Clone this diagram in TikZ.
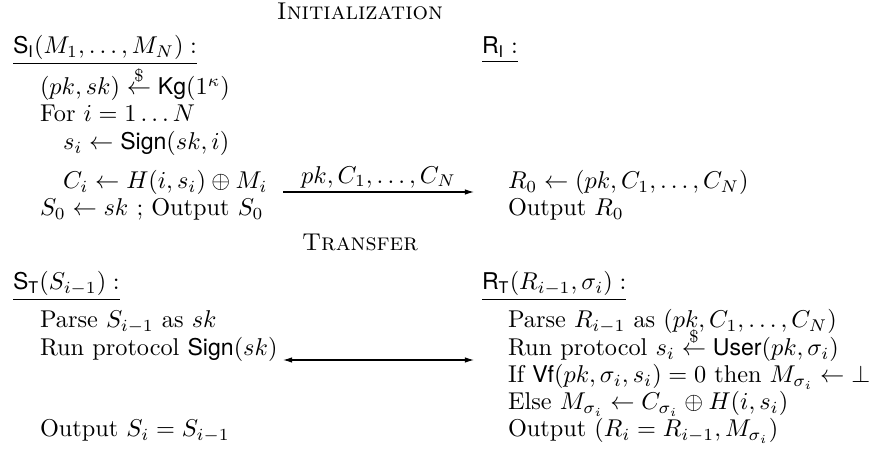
\documentclass[tikz,border=0pt]{standalone}
\usepackage{amsmath,amssymb}
\usepackage{fontspec}
\setsansfont[Scale=0.95]{TeX Gyre Heros}
\usetikzlibrary{arrows.meta}
\begin{document}
\begin{tikzpicture}[x=0.4115pt,y=-0.4115pt,
  txt/.style={anchor=base west, inner sep=0pt, outer sep=0pt},
  ttl/.style={anchor=base, inner sep=0pt, outer sep=0pt},
  tip/.tip={Latex[length=3.8pt,width=2.3pt]},
  msg/.style={line width=0.45pt, -tip},
  dmsg/.style={line width=0.45pt, tip-tip}]
\useasboundingbox (0,0) rectangle (877,463);

% ---- Initialization ----
\node[ttl] (tinit) at (360,20) {\textsc{Initialization}};
\node[txt] (si) at (13,54) {$\underline{\mathsf{S_I}(M_1,\ldots,M_N):}$};
\node[txt] (ri) at (482,54) {$\underline{\mathsf{R_I}:}$};

\node[txt] (kg)  at (40,95)  {$(pk,sk)\stackrel{\$}{\leftarrow}\mathsf{Kg}(1^\kappa)$};
\node[txt] (for) at (40,122) {For $i=1\ldots N$};
\node[txt] (sg)  at (63,150) {$s_i\leftarrow\mathsf{Sign}(sk,i)$};
\node[txt] (ci)  at (63,189) {$C_i\leftarrow H(i,s_i)\oplus M_i$};
\node[txt] (s0)  at (40,216) {$S_0\leftarrow sk$ ; Output $S_0$};

\node[txt] (r0)  at (508,189) {$R_0\leftarrow(pk,C_1,\ldots,C_N)$};
\node[txt] (or0) at (508,216) {Output $R_0$};

\coordinate (iL) at (283,192);
\coordinate (iR) at (474,192);
\draw[msg] (iL) -- node[above=1.4pt, inner sep=0pt] (lab) {$pk,C_1,\ldots,C_N$} (iR);

% ---- Transfer ----
\node[ttl] (ttr) at (360,251) {\textsc{Transfer}};
\node[txt] (st) at (13,290)  {$\underline{\mathsf{S_T}(S_{i-1}):}$};
\node[txt] (rt) at (482,290) {$\underline{\mathsf{R_T}(R_{i-1},\sigma_i):}$};

\node[txt] (sp)  at (40,328)  {Parse $S_{i-1}$ as $sk$};
\node[txt] (rp)  at (508,328) {Parse $R_{i-1}$ as $(pk,C_1,\ldots,C_N)$};
\node[txt] (sr)  at (40,356)  {Run protocol $\mathsf{Sign}(sk)$};
\node[txt] (rr)  at (508,356) {Run protocol $s_i\stackrel{\$}{\leftarrow}\mathsf{User}(pk,\sigma_i)$};
\node[txt] (rif) at (508,383) {If $\mathsf{Vf}(pk,\sigma_i,s_i)=0$ then $M_{\sigma_i}\leftarrow\bot$};
\node[txt] (rel) at (508,410) {Else $M_{\sigma_i}\leftarrow C_{\sigma_i}\oplus H(i,s_i)$};
\node[txt] (so)  at (40,437)  {Output $S_i=S_{i-1}$};
\node[txt] (ro)  at (508,437) {Output $(R_i=R_{i-1},M_{\sigma_i})$};

\coordinate (tL) at (283,360);
\coordinate (tR) at (474,360);
\draw[dmsg] (tL) -- (tR);
\end{tikzpicture}
\end{document}
